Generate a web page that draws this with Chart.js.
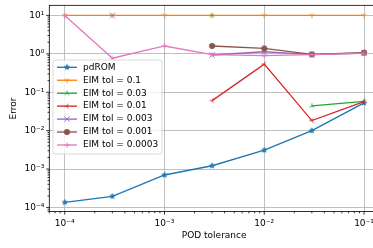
<!DOCTYPE html>
<html>
<head>
<meta charset="utf-8">
<script src="https://cdn.jsdelivr.net/npm/chart.js@4"></script>
<style>
html, body { margin:0; padding:0; background:#fff; overflow:hidden; }
#wrap { width:373px; height:248px; overflow:hidden; }
</style>
</head>
<body>
<div id="wrap"><canvas id="chart" width="390" height="248"></canvas></div>
<script>
// data
const podTol = [1e-4, 3e-4, 1e-3, 3e-3, 1e-2, 3e-2, 1e-1];
const seriesNames = ['pdROM', 'EIM tol = 0.1', 'EIM tol = 0.03', 'EIM tol = 0.01',
  'EIM tol = 0.003', 'EIM tol = 0.001', 'EIM tol = 0.0003'];
const pdrom    = [1.36e-4, 1.95e-4, 7.0e-4, 1.22e-3, 3.1e-3, 1.0e-2, 0.053];
const eim1     = [10, 10, 10, 10, 10, 10, 10];
const eim03    = [null, null, null, 10, null, 0.044, 0.058];
const eim01    = [null, null, null, 0.0605, 0.54, 0.0183, 0.057];
const eim003   = [null, 10, null, 0.93, 1.13, 0.95, 1.05];
const eim001   = [null, null, null, 1.6, 1.38, 0.97, 1.07];
const eim0003  = [10, 0.77, 1.6, 0.95, 0.9, 0.95, 1.03];
const allSeries = [pdrom, eim1, eim03, eim01, eim003, eim001, eim0003];

const xTicks = [1e-4, 1e-3, 1e-2, 1e-1];
const xTickLabels = ['10⁻⁴', '10⁻³', '10⁻²', '10⁻¹'];
const yTicks = [1e-4, 1e-3, 1e-2, 1e-1, 1, 10];
const yTickLabels = ['10⁻⁴', '10⁻³', '10⁻²', '10⁻¹', '10⁰', '10¹'];

const colors = ['#1f77b4', '#ff7f0e', '#2ca02c', '#d62728', '#9467bd', '#8c564b', '#e377c2'];
const markerKinds = ['star', 'tri_down', 'tri_up', 'tri_left', 'x', 'circle', 'plus'];

const PT = 0.89; // px per point

function marker(kind, color){
  const c = document.createElement('canvas');
  c.width = c.height = 12;
  const g = c.getContext('2d');
  const r = 3 * PT;
  g.translate(6, 6);
  g.strokeStyle = color; g.fillStyle = color; g.lineWidth = PT;
  g.beginPath();
  if(kind === 'star'){
    for(let i = 0; i < 10; i++){
      const a = -Math.PI / 2 + i * Math.PI / 5;
      const rr = i % 2 ? r * 0.382 : r;
      g.lineTo(rr * Math.cos(a), rr * Math.sin(a));
    }
    g.closePath(); g.fill(); g.stroke();
  } else if(kind === 'circle'){
    g.arc(0, 0, r, 0, 2 * Math.PI); g.fill(); g.stroke();
  } else {
    let angs;
    if(kind === 'tri_down') angs = [90, 210, 330];
    else if(kind === 'tri_up') angs = [270, 30, 150];
    else if(kind === 'tri_left') angs = [180, 300, 60];
    else if(kind === 'x') angs = [45, 135, 225, 315];
    else angs = [0, 90, 180, 270];
    const rr = kind === 'x' ? r * Math.SQRT2 : r;
    angs.forEach(d => {
      const a = d * Math.PI / 180;
      g.moveTo(0, 0); g.lineTo(rr * Math.cos(a), rr * Math.sin(a));
    });
    g.stroke();
  }
  return c;
}
const markers = markerKinds.map((k, i) => marker(k, colors[i]));

function logTicks(min, max){
  const out = [];
  for(let e = Math.floor(Math.log10(min)); e <= Math.ceil(Math.log10(max)); e++){
    for(let m = 1; m <= 9; m++){
      const v = m * Math.pow(10, e);
      if(v >= min && v <= max) out.push({value: v});
    }
  }
  return out;
}
const isMajor = v => Math.abs(Math.log10(v) - Math.round(Math.log10(v))) < 1e-6;
function labelFor(v, vals, labels){
  for(let k = 0; k < vals.length; k++) if(Math.abs(Math.log10(v) - Math.log10(vals[k])) < 1e-6) return labels[k];
  return '';
}

const frame = {
  id: 'frame',
  afterDraw(chart){
    const ctx = chart.ctx, a = chart.chartArea;
    const xs = chart.scales.x, ys = chart.scales.y;
    ctx.save();
    ctx.strokeStyle = '#000'; ctx.lineWidth = 0.8;
    ctx.strokeRect(a.left, a.top, a.right - a.left, a.bottom - a.top);
    xs.ticks.forEach(t => {
      const p = xs.getPixelForValue(t.value);
      const len = isMajor(t.value) ? 3.5 * PT : 2 * PT;
      ctx.beginPath(); ctx.moveTo(p, a.bottom); ctx.lineTo(p, a.bottom + len); ctx.stroke();
    });
    ys.ticks.forEach(t => {
      const p = ys.getPixelForValue(t.value);
      const len = isMajor(t.value) ? 3.5 * PT : 2 * PT;
      ctx.beginPath(); ctx.moveTo(a.left, p); ctx.lineTo(a.left - len, p); ctx.stroke();
    });
    // legend, lower left inside the axes
    const lx = 53, ly = 60, lw = 109, lh = 94;
    ctx.beginPath();
    ctx.roundRect(lx, ly, lw, lh, 2.5);
    ctx.fillStyle = 'rgba(255,255,255,0.8)'; ctx.fill();
    ctx.strokeStyle = 'rgba(204,204,204,0.8)'; ctx.lineWidth = PT; ctx.stroke();
    ctx.font = '9px "DejaVu Sans"'; ctx.textBaseline = 'middle'; ctx.fillStyle = '#000';
    chart.data.datasets.forEach((ds, i) => {
      const y = 67.3 + i * 12.95;
      ctx.strokeStyle = ds.borderColor; ctx.lineWidth = 1.5 * PT;
      ctx.beginPath(); ctx.moveTo(57, y); ctx.lineTo(77, y); ctx.stroke();
      ctx.drawImage(ds.pointStyle, 67 - 6, y - 6);
      ctx.fillStyle = '#000';
      ctx.fillText(ds.label, 83, y);
    });
    ctx.restore();
  }
};

Chart.defaults.font.family = '"DejaVu Sans"';
Chart.defaults.color = '#000';

new Chart(document.getElementById('chart'), {
  type: 'line',
  data: {
    datasets: seriesNames.map((n, i) => ({
      label: n,
      data: podTol.map((x, j) => ({x: x, y: allSeries[i][j]})),
      borderColor: colors[i],
      backgroundColor: colors[i],
      borderWidth: 1.5 * PT,
      pointStyle: markers[i],
      pointRadius: 3,
      spanGaps: false,
      tension: 0,
      order: seriesNames.length - i
    }))
  },
  options: {
    responsive: false,
    animation: false,
    layout: { padding: { left: 0, right: 11, top: 2.3, bottom: 0 } },
    plugins: { legend: { display: false }, tooltip: { enabled: false } },
    scales: {
      x: {
        type: 'logarithmic',
        min: Math.pow(10, -4.15), max: Math.pow(10, -0.85),
        afterBuildTicks: s => { s.ticks = logTicks(s.min, s.max); },
        afterFit: s => { s.height = 36.5; s.paddingLeft = 0; s.paddingRight = 0; },
        ticks: { autoSkip: false, maxRotation: 0, padding: 6.5, font: { size: 9 },
          callback: v => labelFor(v, xTicks, xTickLabels) },
        grid: { drawTicks: false, lineWidth: 0.8,
          color: c => (c.tick && isMajor(c.tick.value)) ? '#b0b0b0' : 'rgba(0,0,0,0)' },
        border: { display: false },
        title: { display: true, text: 'POD tolerance', font: { size: 9 }, padding: { top: 0, bottom: 7 } }
      },
      y: {
        type: 'logarithmic',
        min: Math.pow(10, -4.105), max: Math.pow(10, 1.262),
        afterBuildTicks: s => { s.ticks = logTicks(s.min, s.max); },
        afterFit: s => { s.width = 49.3; s.paddingTop = 0; s.paddingBottom = 0; },
        ticks: { autoSkip: false, padding: 5, font: { size: 9 },
          callback: v => labelFor(v, yTicks, yTickLabels) },
        grid: { drawTicks: false, lineWidth: 0.8,
          color: c => (c.tick && isMajor(c.tick.value)) ? '#b0b0b0' : 'rgba(0,0,0,0)' },
        border: { display: false },
        title: { display: true, text: 'Error', font: { size: 9 }, padding: { top: 8, bottom: 0 } }
      }
    }
  },
  plugins: [frame]
});
</script>
</body>
</html>
